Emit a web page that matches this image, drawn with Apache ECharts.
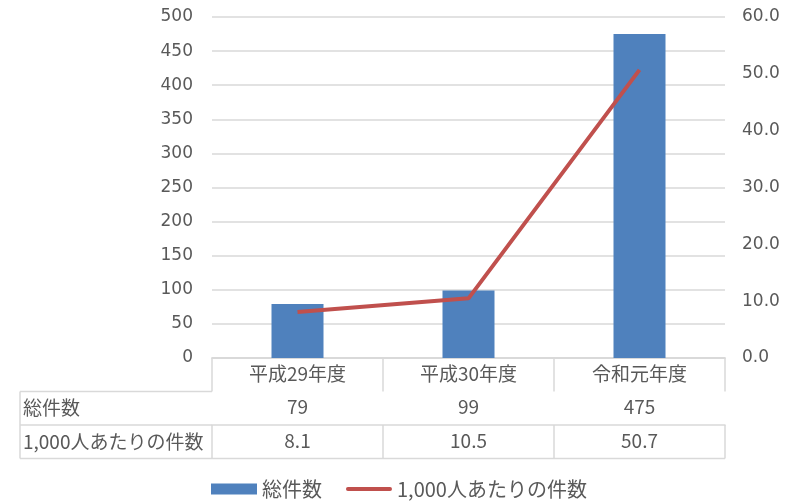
<!DOCTYPE html>
<html>
<head>
<meta charset="utf-8">
<script src="https://cdn.jsdelivr.net/npm/echarts@6/dist/echarts.min.js"></script>
<style>
  html, body { margin: 0; padding: 0; background: #fff; }
  #container { width: 791px; height: 501px; }
</style>
</head>
<body>
<div id="container"></div>
<script>
var categories = ["平成29年度", "平成30年度", "令和元年度"];
var totalCases = [79, 99, 475];
var perThousand = [8.1, 10.5, 50.7];
var rowNames = ["総件数", "1,000人あたりの件数"];
var seriesNames = ["総件数", "1,000人あたりの件数"];

var cjkFont = "Noto Sans CJK JP";
var numFont = "DejaVu Sans";
var textColor = "#595959";
var lineColor = "#d9d9d9";

// plot area
var gridLeft = 212, gridRight = 725, gridTop = 17, gridBottom = 358;
var rowH = 33.5;
var tableLeft = 20;

var myChart = echarts.init(document.getElementById("container"));

function tableAxis(idx, data) {
  return {
    type: "category",
    position: "bottom",
    offset: idx * rowH,
    data: data,
    axisLine: { show: true, lineStyle: { color: lineColor, width: 1.5 } },
    axisTick: { show: true, length: rowH, lineStyle: { color: lineColor, width: 1.5 } },
    axisLabel: { color: textColor, fontSize: 19, fontFamily: cjkFont, margin: 6 }
  };
}

var graphics = [];
// left column of the data table
[1, 2, 3].forEach(function (r) {
  graphics.push({
    type: "line",
    shape: { x1: tableLeft, y1: gridBottom + r * rowH, x2: r === 3 ? gridRight : gridLeft, y2: gridBottom + r * rowH },
    style: { stroke: lineColor, lineWidth: 1.5 }
  });
});
graphics.push({
  type: "line",
  shape: { x1: tableLeft, y1: gridBottom + rowH, x2: tableLeft, y2: gridBottom + 3 * rowH },
  style: { stroke: lineColor, lineWidth: 1.5 }
});
rowNames.forEach(function (name, i) {
  graphics.push({
    type: "text",
    x: tableLeft + 3,
    y: gridBottom + (i + 1.5) * rowH,
    style: { text: name, fill: textColor, fontSize: 19, fontFamily: cjkFont, verticalAlign: "middle" }
  });
});

myChart.setOption({
  animation: false,
  textStyle: { fontFamily: cjkFont },
  grid: {
    left: gridLeft,
    right: 791 - gridRight,
    top: gridTop,
    bottom: 501 - gridBottom,
    containLabel: false
  },
  legend: {
    top: 474,
    left: 206,
    itemWidth: 46,
    itemHeight: 11,
    itemGap: 24,
    textStyle: { color: textColor, fontSize: 20, fontFamily: cjkFont },
    data: [
      { name: seriesNames[0], icon: "rect" },
      { name: seriesNames[1], icon: "path://M0,0L0.01,0ZM2,3.5L46,3.5A2,2 0 0 1 46,7.5L2,7.5A2,2 0 0 1 2,3.5ZM0,11L0.01,11Z" }
    ]
  },
  xAxis: [
    tableAxis(0, categories),
    tableAxis(1, totalCases.map(String)),
    tableAxis(2, perThousand.map(function (v) { return v.toFixed(1); }))
  ],
  yAxis: [
    {
      type: "value",
      min: 0,
      max: 500,
      interval: 50,
      axisLine: { show: false },
      axisTick: { show: false },
      axisLabel: { color: textColor, fontSize: 17, fontFamily: numFont, margin: 19 },
      splitLine: { lineStyle: { color: lineColor, width: 1.5 } }
    },
    {
      type: "value",
      min: 0,
      max: 60,
      interval: 10,
      axisLine: { show: false },
      axisTick: { show: false },
      axisLabel: {
        color: textColor,
        fontSize: 17,
        fontFamily: numFont,
        margin: 17,
        formatter: function (v) { return v.toFixed(1); }
      },
      splitLine: { show: false }
    }
  ],
  series: [
    {
      name: seriesNames[0],
      type: "bar",
      xAxisIndex: 0,
      yAxisIndex: 0,
      data: totalCases,
      barWidth: 52,
      itemStyle: { color: "#4f81bd" }
    },
    {
      name: seriesNames[1],
      type: "line",
      xAxisIndex: 0,
      yAxisIndex: 1,
      data: perThousand,
      symbol: "none",
      lineStyle: { color: "#c0504d", width: 4 },
      itemStyle: { color: "#c0504d" }
    }
  ],
  graphic: graphics
});
</script>
</body>
</html>
